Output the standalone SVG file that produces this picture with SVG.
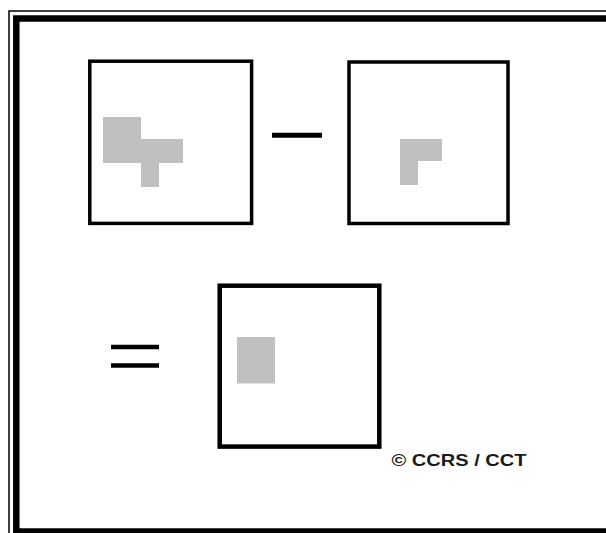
<svg xmlns="http://www.w3.org/2000/svg" width="606" height="533" viewBox="0 0 606 533">
<style>
.box{fill:#fff;stroke:#000}
.grey{fill:#c0c0c0;stroke:none}
.op{stroke:#000;stroke-linecap:butt}
</style>
<rect width="606" height="533" fill="#fff"/>
<g id="frame">
<rect x="9" y="11" width="700" height="600" fill="none" stroke="#000" stroke-width="1.5"/>
<rect x="16.3" y="18.5" width="700" height="513" fill="none" stroke="#000" stroke-width="6.5"/>
</g>
<g id="box1">
<rect class="box" x="89.8" y="61.2" width="161.8" height="162.2" stroke-width="3.5"/>
<polygon class="grey" points="103,117 141,117 141,139 183,139 183,163 159,163 159,187 141,187 141,163 103,163"/>
</g>
<g id="minus">
<line class="op" x1="272" y1="135.3" x2="322" y2="135.3" stroke-width="5"/>
</g>
<g id="box2">
<rect class="box" x="349" y="62" width="159" height="161.5" stroke-width="3.5"/>
<polygon class="grey" points="400,139 442,139 442,161 418,161 418,185 400,185"/>
</g>
<g id="equals">
<line class="op" x1="111" y1="347" x2="159" y2="347" stroke-width="4.5"/>
<line class="op" x1="111" y1="365.5" x2="159" y2="365.5" stroke-width="4.5"/>
</g>
<g id="box3">
<rect class="box" x="219.7" y="285.7" width="159.6" height="160.9" stroke-width="4.5"/>
<rect class="grey" x="237" y="337" width="38" height="46.5"/>
</g>
<g id="credit">
<text x="391.5" y="465.5" font-family="'Liberation Sans', Arial, sans-serif" font-weight="bold" font-size="16.5" textLength="135" lengthAdjust="spacingAndGlyphs" fill="#1a1a1a">© CCRS / CCT</text>
</g>
</svg>
